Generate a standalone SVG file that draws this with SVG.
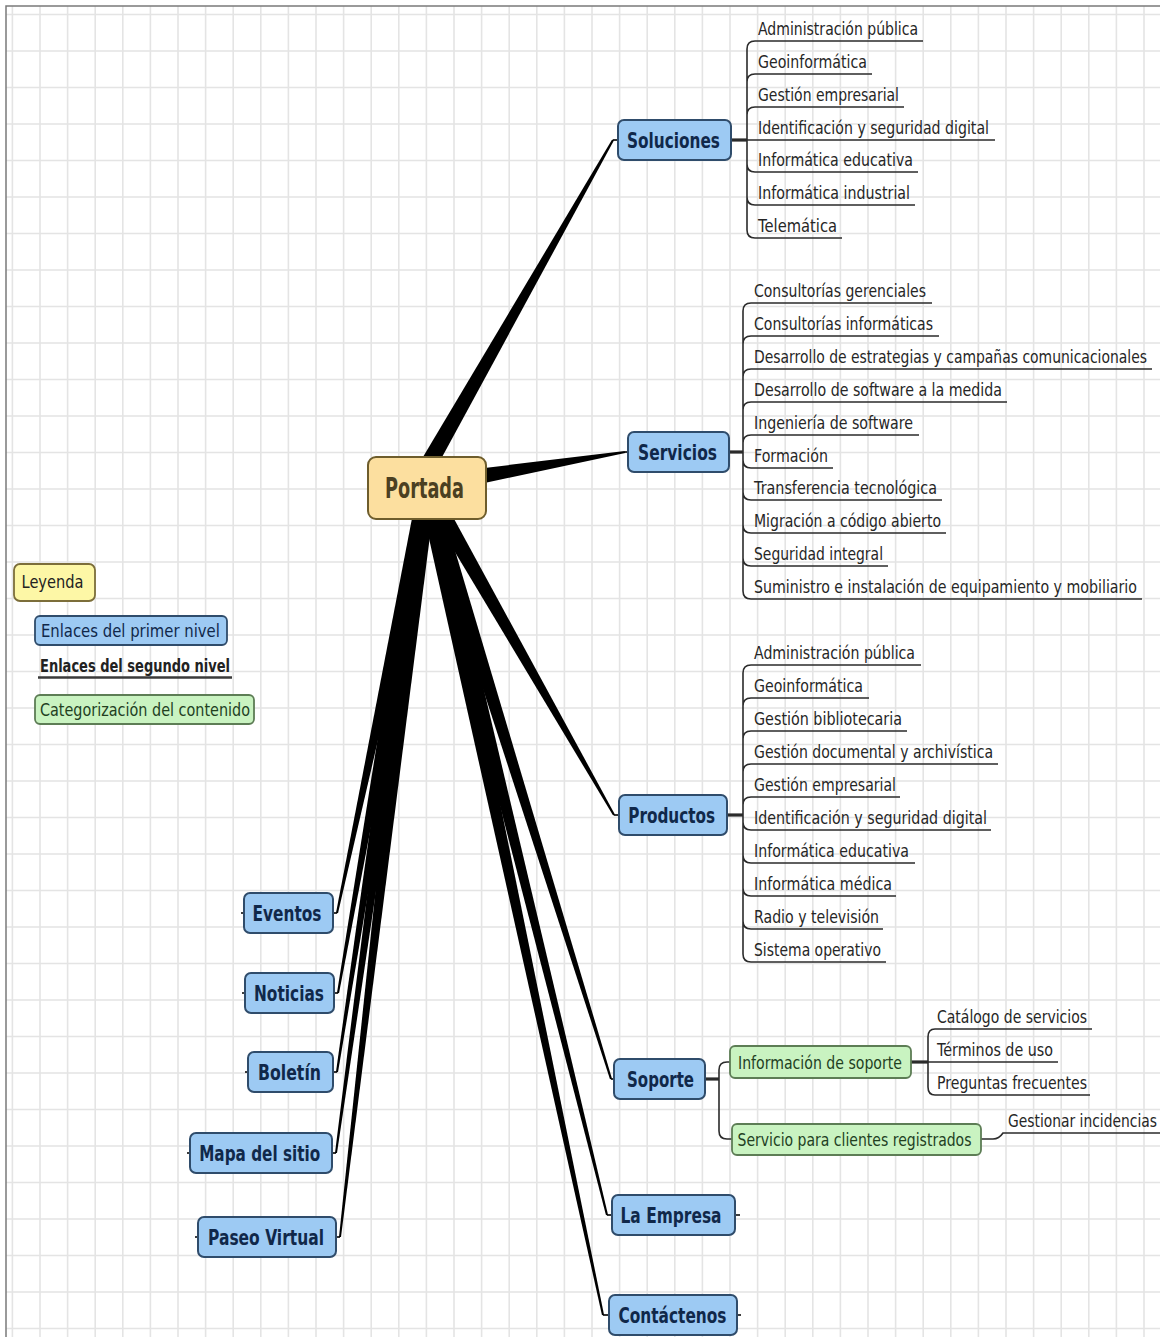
<svg xmlns="http://www.w3.org/2000/svg" width="1160" height="1337" viewBox="0 0 1160 1337">
<style>
text{font-family:"DejaVu Sans","Liberation Sans",sans-serif}
.grid{stroke:#e4e4e4;stroke-width:1.6;fill:none}
.frame{stroke:#7a7a7a;stroke-width:1.5;fill:none}
.wedge{fill:#000}
.elbow{stroke:#000;stroke-width:1.6;fill:none}
.ul{stroke:#2b2b2b;stroke-width:1.6;fill:none}
.stub{stroke:#2b2b2b;stroke-width:3.2;fill:none}
.n1 rect{fill:#9dcaf3;stroke:#2f4c6b;stroke-width:2}
.n1 text{font-size:22px;font-weight:bold;fill:#10284a;text-anchor:middle}
.root rect{fill:#fcdf9f;stroke:#6e5d2c;stroke-width:2}
.root text{font-size:28px;font-weight:bold;fill:#4b4021;text-anchor:middle}
.cat rect{fill:#c9f3c1;stroke:#5d7d55;stroke-width:1.8}
.cat text{font-size:18px;fill:#22401f;text-anchor:middle}
.leaf text{font-size:18.5px;fill:#262626}
.leg rect{stroke-width:1.8}
.leg text{font-size:17px;text-anchor:middle}
</style>
<rect x="0" y="0" width="1160" height="1337" fill="#fff"/>
<path class="grid" d="M12.4,6V1337M40,6V1337M67.6,6V1337M95.2,6V1337M122.8,6V1337M150.4,6V1337M178,6V1337M205.6,6V1337M233.2,6V1337M260.8,6V1337M288.4,6V1337M316,6V1337M343.6,6V1337M371.2,6V1337M398.8,6V1337M426.4,6V1337M454,6V1337M481.6,6V1337M509.2,6V1337M536.8,6V1337M564.4,6V1337M592,6V1337M619.6,6V1337M647.2,6V1337M674.8,6V1337M702.4,6V1337M730,6V1337M757.6,6V1337M785.2,6V1337M812.8,6V1337M840.4,6V1337M868,6V1337M895.6,6V1337M923.2,6V1337M950.8,6V1337M978.4,6V1337M1006,6V1337M1033.6,6V1337M1061.2,6V1337M1088.8,6V1337M1116.4,6V1337M1144,6V1337
M6,14.5H1160M6,51H1160M6,87.5H1160M6,124H1160M6,160.5H1160M6,197H1160M6,233.5H1160M6,270H1160M6,306.5H1160M6,343H1160M6,379.5H1160M6,416H1160M6,452.5H1160M6,489H1160M6,525.5H1160M6,562H1160M6,598.5H1160M6,635H1160M6,671.5H1160M6,708H1160M6,744.5H1160M6,781H1160M6,817.5H1160M6,854H1160M6,890.5H1160M6,927H1160M6,963.5H1160M6,1000H1160M6,1036.5H1160M6,1073H1160M6,1109.5H1160M6,1146H1160M6,1182.5H1160M6,1219H1160M6,1255.5H1160M6,1292H1160M6,1328.5H1160"/>
<path class="frame" d="M6,1337V6H1160"/>

<g id="connectors">
  <!-- tapered first-level branches -->
  <polygon class="wedge" points="422.8,492.5 613.9,140.5 612.1,139.5 407.2,483.5"/>
  <path class="elbow" d="M613,140H619"/>
  <polygon class="wedge" points="428.6,494.9 625.2,453 624.8,451 425.4,475.1"/>
  <path class="elbow" d="M625,452H629"/>
  <polygon class="wedge" points="419.2,492.5 613.1,815.5 614.9,814.5 434.8,483.5"/>
  <path class="elbow" d="M614,815H620"/>
  <polygon class="wedge" points="418.4,490.7 610,1079.3 612,1078.7 435.6,485.3"/>
  <path class="elbow" d="M611,1079H615"/>
  <polygon class="wedge" points="418.3,490.2 606,1215.2 608,1214.8 435.7,485.8"/>
  <path class="elbow" d="M607,1215H613"/>
  <polygon class="wedge" points="418.2,489.9 602,1315.2 604,1314.8 435.8,486.1"/>
  <path class="elbow" d="M603,1315H610"/>
  <polygon class="wedge" points="418.2,486.1 336,912.8 338,913.2 435.8,489.9"/>
  <path class="elbow" d="M337,913H332"/>
  <polygon class="wedge" points="418.1,486.4 337,992.8 339,993.2 435.9,489.6"/>
  <path class="elbow" d="M338,993H333"/>
  <polygon class="wedge" points="418.1,486.6 336,1071.8 338,1072.2 435.9,489.4"/>
  <path class="elbow" d="M337,1072H332"/>
  <polygon class="wedge" points="418.1,486.8 335,1152.9 337,1153.1 435.9,489.2"/>
  <path class="elbow" d="M336,1153H331"/>
  <polygon class="wedge" points="418.1,487 339,1236.9 341,1237.1 435.9,489"/>
  <path class="elbow" d="M340,1237H335"/>
  <!-- collapsed markers -->
  <path class="elbow" d="M241,913H245M242,993H246M245,1072H249M187,1153H191M195,1237H199M735,1215H740M737,1315H741"/>

  <!-- Soluciones children -->
  <path class="stub" d="M731,140H747"/>
  <path class="ul" d="M747,140V49Q747,41 755,41H923M747,140V82Q747,74 755,74H872M747,140V115Q747,107 755,107H904M747,140H995M747,140V164Q747,172 755,172H918M747,140V197Q747,205 755,205H915M747,140V230Q747,238 755,238H842"/>

  <!-- Servicios children -->
  <path class="stub" d="M729,452H743"/>
  <path class="ul" d="M743,452V311Q743,303 751,303H932M743,452V344Q743,336 751,336H939M743,452V377Q743,369 751,369H1152M743,452V410Q743,402 751,402H1007M743,452V443Q743,435 751,435H919M743,452V460Q743,468 751,468H833M743,452V492Q743,500 751,500H942M743,452V525Q743,533 751,533H946M743,452V558Q743,566 751,566H888M743,452V591Q743,599 751,599H1142"/>

  <!-- Productos children -->
  <path class="stub" d="M727,815H743"/>
  <path class="ul" d="M743,815V673Q743,665 751,665H921M743,815V706Q743,698 751,698H869M743,815V739Q743,731 751,731H907M743,815V772Q743,764 751,764H998M743,815V805Q743,797 751,797H900M743,815V822Q743,830 751,830H991M743,815V855Q743,863 751,863H915M743,815V888Q743,896 751,896H896M743,815V921Q743,929 751,929H883M743,815V954Q743,962 751,962H886"/>

  <!-- Soporte children -->
  <path class="stub" d="M705,1079H719"/>
  <path class="ul" d="M719,1079V1070Q719,1062 727,1062H731M719,1079V1131Q719,1139 727,1139H733"/>
  <path class="stub" d="M911,1062H928"/>
  <path class="ul" d="M928,1062V1037Q928,1029 935,1029H1092M928,1062H1058M928,1062V1087Q928,1095 935,1095H1090"/>
  <path class="ul" d="M981,1139H993Q999,1139 1003,1133H1160"/>
</g>

<g id="n-portada" class="root"><rect x="368" y="457" width="118" height="62" rx="8"/><text x="424.5" y="498" textLength="79" lengthAdjust="spacingAndGlyphs">Portada</text></g>

<g id="n-soluciones" class="n1"><rect x="618" y="120" width="113" height="40" rx="6"/><text x="673.5" y="148" textLength="93" lengthAdjust="spacingAndGlyphs">Soluciones</text></g>
<g id="n-servicios" class="n1"><rect x="628" y="432" width="101" height="40" rx="6"/><text x="677.5" y="460" textLength="79" lengthAdjust="spacingAndGlyphs">Servicios</text></g>
<g id="n-productos" class="n1"><rect x="619" y="795" width="108" height="40" rx="6"/><text x="671.7" y="823" textLength="87" lengthAdjust="spacingAndGlyphs">Productos</text></g>
<g id="n-soporte" class="n1"><rect x="614" y="1059" width="91" height="40" rx="6"/><text x="660.5" y="1087" textLength="67" lengthAdjust="spacingAndGlyphs">Soporte</text></g>
<g id="n-empresa" class="n1"><rect x="612" y="1195" width="123" height="40" rx="6"/><text x="671" y="1223" textLength="101" lengthAdjust="spacingAndGlyphs">La Empresa</text></g>
<g id="n-contactenos" class="n1"><rect x="609" y="1295" width="128" height="40" rx="6"/><text x="672.5" y="1323" textLength="108" lengthAdjust="spacingAndGlyphs">Contáctenos</text></g>
<g id="n-eventos" class="n1"><rect x="244" y="893" width="89" height="40" rx="6"/><text x="287" y="921" textLength="69" lengthAdjust="spacingAndGlyphs">Eventos</text></g>
<g id="n-noticias" class="n1"><rect x="245" y="973" width="89" height="40" rx="6"/><text x="289" y="1001" textLength="70" lengthAdjust="spacingAndGlyphs">Noticias</text></g>
<g id="n-boletin" class="n1"><rect x="248" y="1052" width="85" height="40" rx="6"/><text x="289.5" y="1080" textLength="63" lengthAdjust="spacingAndGlyphs">Boletín</text></g>
<g id="n-mapa" class="n1"><rect x="190" y="1133" width="142" height="40" rx="6"/><text x="259.7" y="1161" textLength="121" lengthAdjust="spacingAndGlyphs">Mapa del sitio</text></g>
<g id="n-paseo" class="n1"><rect x="198" y="1217" width="138" height="40" rx="6"/><text x="266" y="1245" textLength="116" lengthAdjust="spacingAndGlyphs">Paseo Virtual</text></g>

<g id="c-info" class="cat"><rect x="730" y="1046" width="181" height="32" rx="5"/><text x="820" y="1068.5" textLength="164" lengthAdjust="spacingAndGlyphs">Información de soporte</text></g>
<g id="c-clientes" class="cat"><rect x="732" y="1124" width="249" height="31" rx="5"/><text x="854.5" y="1146" textLength="234" lengthAdjust="spacingAndGlyphs">Servicio para clientes registrados</text></g>

<g id="leaves-soluciones" class="leaf">
  <text x="758" y="34.5" textLength="160" lengthAdjust="spacingAndGlyphs">Administración pública</text>
  <text x="758" y="67.5" textLength="109" lengthAdjust="spacingAndGlyphs">Geoinformática</text>
  <text x="758" y="100.5" textLength="141" lengthAdjust="spacingAndGlyphs">Gestión empresarial</text>
  <text x="758" y="133.5" textLength="231" lengthAdjust="spacingAndGlyphs">Identificación y seguridad digital</text>
  <text x="758" y="165.5" textLength="155" lengthAdjust="spacingAndGlyphs">Informática educativa</text>
  <text x="758" y="198.5" textLength="152" lengthAdjust="spacingAndGlyphs">Informática industrial</text>
  <text x="758" y="231.5" textLength="79" lengthAdjust="spacingAndGlyphs">Telemática</text>
</g>
<g id="leaves-servicios" class="leaf">
  <text x="754" y="296.5" textLength="172" lengthAdjust="spacingAndGlyphs">Consultorías gerenciales</text>
  <text x="754" y="329.5" textLength="179" lengthAdjust="spacingAndGlyphs">Consultorías informáticas</text>
  <text x="754" y="362.5" textLength="393" lengthAdjust="spacingAndGlyphs">Desarrollo de estrategias y campañas comunicacionales</text>
  <text x="754" y="395.5" textLength="248" lengthAdjust="spacingAndGlyphs">Desarrollo de software a la medida</text>
  <text x="754" y="428.5" textLength="159" lengthAdjust="spacingAndGlyphs">Ingeniería de software</text>
  <text x="754" y="461.5" textLength="74" lengthAdjust="spacingAndGlyphs">Formación</text>
  <text x="754" y="493.5" textLength="183" lengthAdjust="spacingAndGlyphs">Transferencia tecnológica</text>
  <text x="754" y="526.5" textLength="187" lengthAdjust="spacingAndGlyphs">Migración a código abierto</text>
  <text x="754" y="559.5" textLength="129" lengthAdjust="spacingAndGlyphs">Seguridad integral</text>
  <text x="754" y="592.5" textLength="383" lengthAdjust="spacingAndGlyphs">Suministro e instalación de equipamiento y mobiliario</text>
</g>
<g id="leaves-productos" class="leaf">
  <text x="754" y="658.5" textLength="161" lengthAdjust="spacingAndGlyphs">Administración pública</text>
  <text x="754" y="691.5" textLength="109" lengthAdjust="spacingAndGlyphs">Geoinformática</text>
  <text x="754" y="724.5" textLength="148" lengthAdjust="spacingAndGlyphs">Gestión bibliotecaria</text>
  <text x="754" y="757.5" textLength="239" lengthAdjust="spacingAndGlyphs">Gestión documental y archivística</text>
  <text x="754" y="790.5" textLength="142" lengthAdjust="spacingAndGlyphs">Gestión empresarial</text>
  <text x="754" y="823.5" textLength="233" lengthAdjust="spacingAndGlyphs">Identificación y seguridad digital</text>
  <text x="754" y="856.5" textLength="155" lengthAdjust="spacingAndGlyphs">Informática educativa</text>
  <text x="754" y="889.5" textLength="138" lengthAdjust="spacingAndGlyphs">Informática médica</text>
  <text x="754" y="922.5" textLength="125" lengthAdjust="spacingAndGlyphs">Radio y televisión</text>
  <text x="754" y="955.5" textLength="127" lengthAdjust="spacingAndGlyphs">Sistema operativo</text>
</g>
<g id="leaves-soporte" class="leaf">
  <text x="937" y="1022.5" textLength="150" lengthAdjust="spacingAndGlyphs">Catálogo de servicios</text>
  <text x="937" y="1055.5" textLength="116" lengthAdjust="spacingAndGlyphs">Términos de uso</text>
  <text x="937" y="1088.5" textLength="150" lengthAdjust="spacingAndGlyphs">Preguntas frecuentes</text>
  <text x="1008" y="1126.5" textLength="149" lengthAdjust="spacingAndGlyphs">Gestionar incidencias</text>
</g>

<g id="legend" class="leg">
  <g id="leg-title"><rect x="14" y="564" width="81" height="37" rx="6" fill="#fdf7a6" stroke="#7c6e3a"/><text x="52.5" y="588" font-size="18" fill="#222" textLength="62" lengthAdjust="spacingAndGlyphs">Leyenda</text></g>
  <g id="leg-primer"><rect x="35" y="616" width="192" height="29" rx="5" fill="#9dcaf3" stroke="#2f4c6b"/><text x="130.4" y="637" fill="#10284a" textLength="179" lengthAdjust="spacingAndGlyphs">Enlaces del primer nivel</text></g>
  <g id="leg-segundo"><text x="135" y="672" fill="#222" font-weight="bold" textLength="190" lengthAdjust="spacingAndGlyphs">Enlaces del segundo nivel</text><path d="M38,677.5H232" stroke="#3a3a3a" stroke-width="2.5"/></g>
  <g id="leg-cat"><rect x="35" y="695" width="219" height="29" rx="5" fill="#c9f3c1" stroke="#5d7d55"/><text x="145" y="715.5" fill="#22401f" textLength="210" lengthAdjust="spacingAndGlyphs">Categorización del contenido</text></g>
</g>
</svg>
